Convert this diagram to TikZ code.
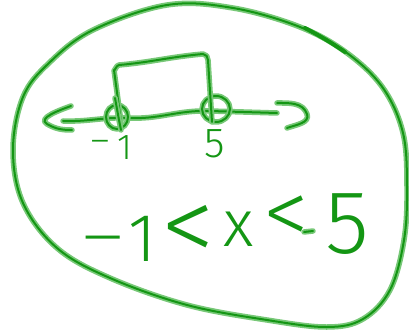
\documentclass[tikz,border=0pt]{standalone}
\usepackage{fontspec}
\setmainfont{Fira Sans}[UprightFont={* Light}]
\begin{document}
\begin{tikzpicture}[x=1pt,y=-1pt,
  every node/.style={inner sep=0pt,text=core},
  pen/.style={draw=core,line width=2pt,line cap=round,line join=round,
    preaction={draw=halo,line width=5.5pt,line cap=round,line join=round}},
  fs/.style={font=\fontsize{#1}{#1}\selectfont}]
\definecolor{core}{RGB}{20,150,20}
\definecolor{halo}{RGB}{120,200,120}
\useasboundingbox (0,0) rectangle (409,331);
% outer blob
\draw[pen] plot[smooth cycle,tension=0.6] coordinates {
 (167,5) (233,8) (300,27) (347,53) (383,88) (403,133) (407,187) (404,240)
 (390,290) (363,319) (327,327) (267,320) (187,305) (110,278) (57,248)
 (23,203) (13,150) (23,97) (49,63) (93,30)};
\draw[draw=core,line width=4pt,line cap=round] (305,28) to[bend left=3] (345,52);
% number line
\draw[pen] (63,121) to[out=-2,in=178] (127,118) to[out=-3,in=178] (210,111) -- (277,113);
\draw[pen] (71,106) to[out=200,in=150] (47,124) to[out=-30,in=180] (72,130);
\draw[pen] (277,103) to[out=0,in=110] (307,114) to[out=-70,in=20] (287,128);
% open circles
\draw[pen] (117,117) ellipse[x radius=11,y radius=12];
\draw[pen] (216,109) ellipse[x radius=14,y radius=13];
% box
\draw[pen] (121,122) -- (114,70) to[out=-90,in=180] (119,65) to[out=5,in=185] (203,54)
  to[out=0,in=90] (208,60) -- (212,122);
\draw[pen] (115,98) -- (119,120) -- (121,130);
% labels on line
\node[fs=34,anchor=base,xscale=1.3] (lm) at (100,153) {−};
\node[fs=36] (l1) at (125,148) {1};
\node[fs=42] (l5) at (215,144) {5};
% inequality
\node[fs=60,anchor=base,xscale=1.6] (im) at (103,257) {−};
\node[fs=68] (i1) at (143,239) {1};
\node[fs=108] (ilt1) at (188,234) {<};
\node[fs=66] (ix) at (239,229) {x};
\node[fs=92] (ilt2) at (286,220) {<};
\draw[pen] (304,232) -- (313,231);
\node[fs=90] (i5) at (347,224) {5};
\end{tikzpicture}
\end{document}
